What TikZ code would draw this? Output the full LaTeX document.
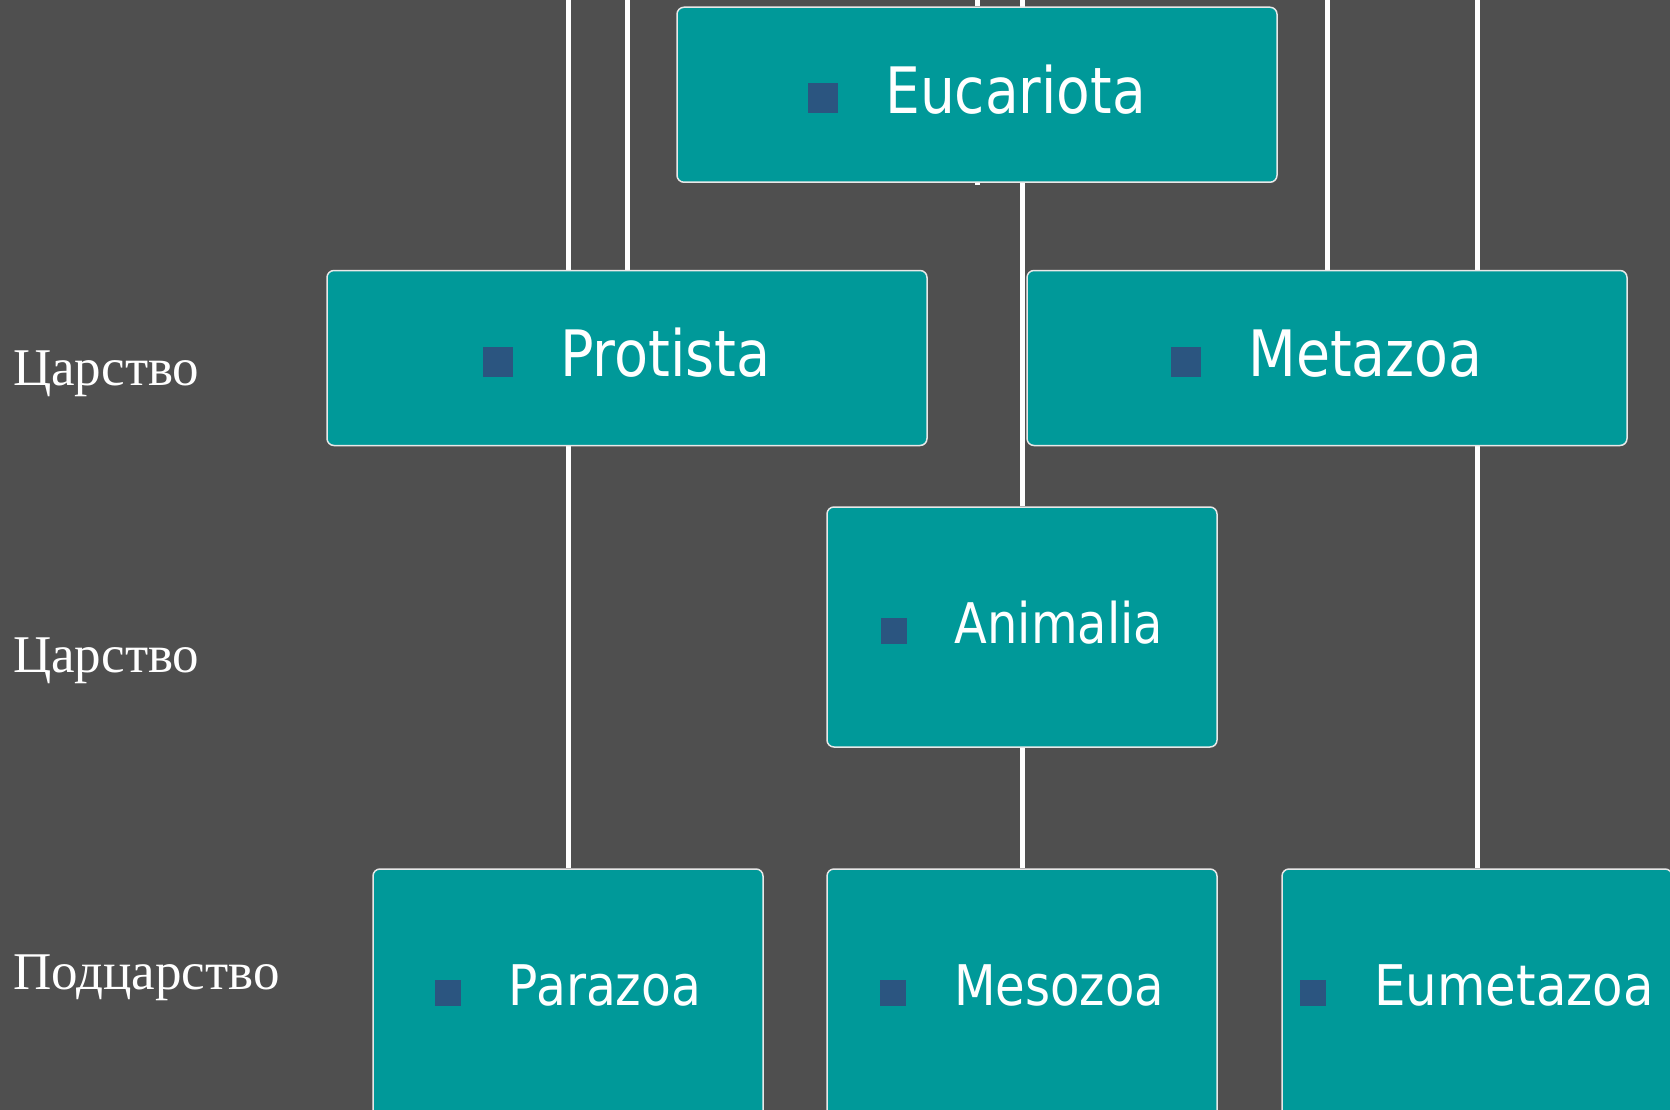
\documentclass[tikz,border=0pt]{standalone}
\usepackage{fontspec}
\usepackage{graphicx}
\setmainfont{Liberation Serif}
\newfontfamily\boxfont{DejaVu Sans}
\usetikzlibrary{backgrounds}
\definecolor{bgc}{HTML}{4F4F4F}
\definecolor{teal2}{HTML}{009999}
\definecolor{bulletc}{HTML}{2B5580}
\definecolor{edgec}{HTML}{E8E8E8}
\newcommand{\topitem}[2]{\textcolor{bulletc}{\rule{30pt}{30pt}}\hspace{47pt}\scalebox{#1}[1]{#2}}
\newcommand{\lowitem}[2]{\textcolor{bulletc}{\rule{26pt}{26pt}}\hspace{48pt}\scalebox{#1}[1]{#2}}
\tikzset{
  boxbase/.style={draw=edgec, line width=1.5pt, fill=teal2, rounded corners=7pt,
    inner sep=0pt, text=white, align=center, text depth=0pt},
  topbox/.style={boxbase, minimum width=600pt, minimum height=175pt,
    font=\boxfont\fontsize{64}{70}\selectfont, text height=37pt},
  lowbox/.style={boxbase, minimum width=390pt, minimum height=240pt,
    font=\boxfont\fontsize{56}{62}\selectfont, text height=33.4pt},
  endbox/.style={boxbase, minimum width=390pt, minimum height=250pt,
    font=\boxfont\fontsize{56}{62}\selectfont, text height=23.4pt},
  rank/.style={anchor=base west, inner sep=0pt, text=white,
    font=\fontsize{53}{58}\selectfont},
  link/.style={draw=white, line width=5pt},
}
\begin{document}
\begin{tikzpicture}[x=1pt,y=-1pt]
\useasboundingbox (0,0) rectangle (1670,1110);
\begin{pgfonlayer}{background}
\fill[bgc] (0,0) rectangle (1670,1110);
\end{pgfonlayer}
\clip (0,0) rectangle (1670,1110);

% boxes
\node[topbox] (euc) at (977,94.75) {\topitem{0.86}{Eucariota}};
\node[topbox] (pro) at (627,358) {\topitem{0.87}{Protista}};
\node[topbox] (met) at (1327,358) {\topitem{0.865}{Metazoa}};
\node[lowbox] (ani) at (1022,627) {\lowitem{0.855}{Animalia}};
\node[endbox] (par) at (568,994) {\lowitem{0.87}{Parazoa}};
\node[endbox] (mes) at (1022,994) {\lowitem{0.86}{Mesozoa}};
\node[endbox] (eum) at (1477,994) {\lowitem{0.89}{Eumetazoa}};

% rank labels
\node[rank] (r1) at (13,385) {Царство};
\node[rank] (r2) at (13,672.7) {Царство};
\node[rank] (r3) at (13,989.6) {Подцарство};

% free ends at the top edge
\coordinate (tpar) at (568,0);
\coordinate (tpro) at (627,0);
\coordinate (teuc) at (977,0);
\coordinate (tani) at (1022,0);
\coordinate (tmet) at (1327,0);
\coordinate (teum) at (1477,0);
\coordinate (seuc) at (977,185.5);

\begin{pgfonlayer}{background}
\draw[link] (par.north) -- (tpar);
\draw[link] (pro.north) -- (tpro);
\draw[link] (euc.north) -- (teuc);
\draw[link] (euc.south) -- (seuc);
\draw[link] (ani.north) -- (tani);
\draw[link] (mes.north) -- (ani.south);
\draw[link] (met.north) -- (tmet);
\draw[link] (eum.north) -- (teum);
\end{pgfonlayer}
\end{tikzpicture}
\end{document}
